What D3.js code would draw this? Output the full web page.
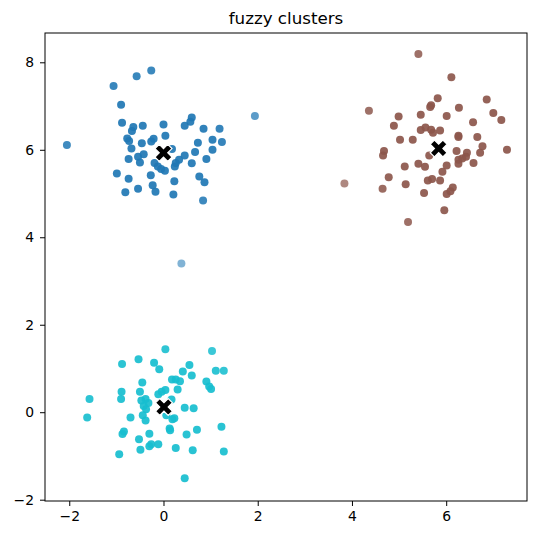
<!DOCTYPE html>
<html>
<head>
<meta charset="utf-8">
<script src="https://cdn.jsdelivr.net/npm/d3@7"></script>
<style>
  body { margin: 0; background: white; }
  text { font-family: "DejaVu Sans", sans-serif; }
</style>
</head>
<body>
<script>
// cluster points
let blueX = [-0.26,-0.57,-1.06,-0.90,-0.88,-0.64,-0.67,-0.44,0.00,0.04,-0.21,-0.26,-0.46,-0.77,-0.73,-0.68,-0.74,-0.54,-0.42,-0.50,-2.05,0.60,0.57,0.45,0.85,1.19,1.94,1.04,1.24,0.73,1.04,0.67,0.45,0.91,0.60,0.26,0.33,0.24,0.18,-0.19,-0.12,-0.05,0.03,-0.27,-0.99,-0.74,-0.54,-0.81,-0.23,-0.17,0.21,0.23,0.76,0.87,0.84,0.38]
let blueY = [7.81,7.68,7.46,7.03,6.62,6.52,6.43,6.55,6.58,6.32,6.25,6.19,6.15,6.26,6.20,6.03,5.79,5.84,5.90,5.71,6.11,6.74,6.64,6.55,6.48,6.48,6.77,6.23,6.18,6.16,6.00,5.95,5.87,5.79,5.69,5.70,5.77,5.62,6.02,5.70,5.62,5.56,5.52,5.42,5.46,5.34,5.11,5.03,5.19,5.04,4.98,5.28,5.39,5.26,4.84,3.40]

let brownX = [5.41,6.11,6.86,5.82,5.68,5.66,4.36,6.27,7.00,7.17,4.99,5.46,6.01,4.89,6.57,5.56,5.46,5.68,5.72,5.87,6.26,6.26,6.66,5.02,5.29,6.77,7.29,4.68,4.66,6.22,6.44,6.72,5.64,6.42,6.34,6.26,6.26,6.58,5.41,5.55,5.12,6.01,5.92,4.78,5.61,5.70,5.87,3.84,5.14,4.65,6.14,6.09,6.01,5.53,5.96,5.19]
let brownY = [8.19,7.66,7.15,7.18,7.02,6.98,6.89,6.96,6.84,6.68,6.76,6.80,6.77,6.55,6.63,6.51,6.45,6.46,6.39,6.44,6.32,6.29,6.29,6.23,6.23,6.08,6.00,5.97,5.87,5.97,5.93,5.93,5.87,5.84,5.80,5.77,5.68,5.70,5.68,5.61,5.62,5.64,5.50,5.37,5.30,5.33,5.30,5.23,5.21,5.11,5.14,5.05,4.99,5.01,4.62,4.35]

let cyanX = [0.04,1.03,-0.53,-0.88,-0.20,-0.09,0.55,0.41,0.60,1.11,1.28,0.18,0.26,0.35,-0.45,0.91,0.97,1.01,0.04,-0.04,-0.11,0.30,-0.89,-0.90,-0.50,-1.57,-0.47,-0.38,-0.32,0.17,-0.42,-0.37,-0.44,0.45,0.64,-1.62,-0.70,-0.38,0.06,0.19,0.23,0.13,0.14,0.71,1.23,-0.84,-0.87,-0.30,0.49,-0.52,-0.26,-0.30,-0.11,-0.49,0.26,0.62,1.28,-0.94,0.45]
let cyanY = [1.44,1.40,1.21,1.10,1.13,0.98,1.08,0.93,0.84,0.95,0.95,0.75,0.75,0.71,0.68,0.70,0.59,0.53,0.51,0.47,0.41,0.52,0.47,0.30,0.47,0.30,0.27,0.30,0.21,0.29,0.14,0.07,-0.07,0.10,0.09,-0.12,-0.12,-0.19,-0.07,-0.16,-0.14,-0.37,-0.41,-0.40,-0.33,-0.44,-0.50,-0.49,-0.51,-0.62,-0.73,-0.78,-0.73,-0.86,-0.82,-0.87,-0.90,-0.96,-1.51]

let centerX = [0.00, 5.84, 0.01]
let centerY = [5.93, 6.03, 0.12]
let colors = ['#1f77b4', '#8c564b', '#17becf']

let xTicks = [-2, 0, 2, 4, 6]
let yTicks = [-2, 0, 2, 4, 6, 8]

function main(){
    let width = 538, height = 538
    let margin = {top: 33, right: 11, bottom: 37, left: 45}

    let svg = d3.select('body')
        .append('svg')
        .attr('width', width)
        .attr('height', height)

    let xScale = d3.scaleLinear()
        .domain([-2.515, 7.715])
        .range([margin.left, width - margin.right])
    let yScale = d3.scaleLinear()
        .domain([-2.03, 8.67])
        .range([height - margin.bottom, margin.top])

    let clusters = [[blueX, blueY], [brownX, brownY], [cyanX, cyanY]]
    let points = []
    clusters.forEach((c, k) => {
        c[0].forEach((x, i) => points.push({x: x, y: c[1][i], k: k}))
    })

    // fuzzy membership (m = 2) -> opacity
    points.forEach(p => {
        let d = centerX.map((cx, j) => Math.hypot(p.x - cx, p.y - centerY[j]) + 1e-6)
        let s = 0
        d.forEach(dj => { s += (d[p.k] / dj) ** 2 })
        p.u = 1 / s
    })

    svg.append('g')
        .selectAll('circle')
        .data(points)
        .enter()
        .append('circle')
        .attr('cx', d => xScale(d.x))
        .attr('cy', d => yScale(d.y))
        .attr('r', 4)
        .attr('fill', d => colors[d.k])
        .attr('fill-opacity', d => Math.min(0.92, d.u))

    svg.append('g')
        .selectAll('path')
        .data(centerX)
        .enter()
        .append('path')
        .attr('d', d3.symbol().type(d3.symbolCross).size(180))
        .attr('transform', (d, i) => `translate(${xScale(d)},${yScale(centerY[i])}) rotate(45)`)
        .attr('fill', 'black')
        .attr('stroke', 'white')
        .attr('stroke-width', 1.2)

    let xAxis = svg.append('g')
        .attr('transform', `translate(0,${height - margin.bottom})`)
        .call(d3.axisBottom(xScale).tickValues(xTicks).tickSize(5).tickPadding(5))
    let yAxis = svg.append('g')
        .attr('transform', `translate(${margin.left},0)`)
        .call(d3.axisLeft(yScale).tickValues(yTicks).tickSize(5).tickPadding(6))
    ;[xAxis, yAxis].forEach(a => {
        a.select('.domain').remove()
        a.selectAll('text').attr('font-size', '13.9px').attr('fill', 'black')
            .attr('font-family', '"DejaVu Sans", sans-serif')
        a.selectAll('line').attr('stroke', 'black').attr('stroke-width', 1)
    })

    svg.append('rect')
        .attr('x', margin.left)
        .attr('y', margin.top)
        .attr('width', width - margin.left - margin.right)
        .attr('height', height - margin.top - margin.bottom)
        .attr('fill', 'none')
        .attr('stroke', 'black')
        .attr('stroke-width', 1)

    svg.append('text')
        .attr('x', (margin.left + width - margin.right) / 2)
        .attr('y', 24)
        .attr('text-anchor', 'middle')
        .attr('font-size', '16.7px')
        .text('fuzzy clusters')
}

main()
</script>
</body>
</html>
